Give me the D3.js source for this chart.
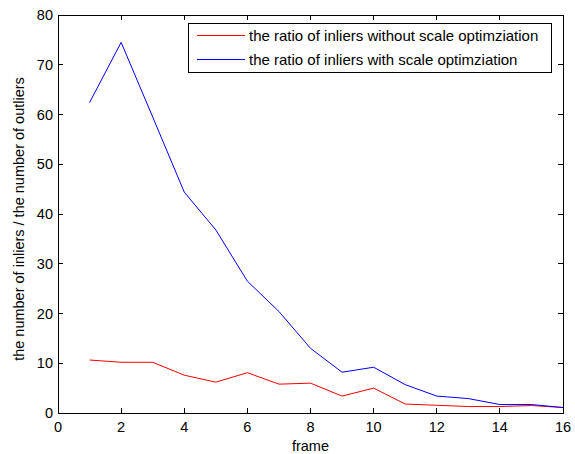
<!DOCTYPE html>
<html>
<head>
<meta charset="utf-8">
<script src="https://cdn.jsdelivr.net/npm/d3@7"></script>
<style>
  body { margin: 0; background: #fff; }
  text { font-family: Arial, "Liberation Sans", sans-serif; fill: #000; }
</style>
</head>
<body>
<svg width="575" height="454"></svg>
<script>
var frames = d3.range(1, 17);
var withoutScale = [10.65, 10.2, 10.2, 7.6, 6.2, 8.1, 5.8, 6.0, 3.4, 5.0, 1.8, 1.55, 1.3, 1.3, 1.5, 1.1];
var withScale = [62.4, 74.5, 59.5, 44.4, 36.8, 26.5, 20.4, 13.0, 8.2, 9.2, 5.7, 3.4, 2.9, 1.7, 1.7, 1.1];
var xTicks = [0, 2, 4, 6, 8, 10, 12, 14, 16];
var yTicks = [0, 10, 20, 30, 40, 50, 60, 70, 80];
var series = [
  { name: "the ratio of inliers without scale optimziation", values: withoutScale, color: "#ff0000" },
  { name: "the ratio of inliers with scale optimziation", values: withScale, color: "#0000ff" }
];

var svg = d3.select("svg"),
  pLeft = 58, pRight = 563, pTop = 15, pBottom = 413;

var x = d3.scaleLinear().domain([0, 16]).range([pLeft, pRight]);
var y = d3.scaleLinear().domain([0, 80]).range([pBottom, pTop]);

var line = d3.line()
  .x(function (d, i) { return x(frames[i]); })
  .y(function (d) { return y(d); });

svg.append("g")
  .selectAll("path")
  .data(series)
  .enter().append("path")
  .attr("fill", "none")
  .attr("stroke", function (d) { return d.color; })
  .attr("stroke-width", 1)
  .attr("d", function (d) { return line(d.values); });

// box + inward ticks on all sides
var tick = 5;
var axes = svg.append("g").attr("stroke", "#000").attr("stroke-width", 1).attr("shape-rendering", "crispEdges");
axes.append("rect")
  .attr("x", pLeft).attr("y", pTop)
  .attr("width", pRight - pLeft).attr("height", pBottom - pTop)
  .attr("fill", "none");

axes.selectAll(".xb").data(xTicks).enter().append("line")
  .attr("x1", x).attr("x2", x).attr("y1", pBottom).attr("y2", pBottom - tick);
axes.selectAll(".xt").data(xTicks).enter().append("line")
  .attr("x1", x).attr("x2", x).attr("y1", pTop).attr("y2", pTop + tick);
axes.selectAll(".yl").data(yTicks).enter().append("line")
  .attr("y1", y).attr("y2", y).attr("x1", pLeft).attr("x2", pLeft + tick);
axes.selectAll(".yr").data(yTicks).enter().append("line")
  .attr("y1", y).attr("y2", y).attr("x1", pRight).attr("x2", pRight - tick);

svg.append("g")
  .selectAll("text")
  .data(xTicks)
  .enter().append("text")
  .attr("x", x)
  .attr("y", pBottom + 19)
  .attr("text-anchor", "middle")
  .attr("font-size", 14.5)
  .text(function (d) { return d; });

svg.append("g")
  .selectAll("text")
  .data(yTicks)
  .enter().append("text")
  .attr("x", pLeft - 5)
  .attr("y", y)
  .attr("dy", "0.35em")
  .attr("text-anchor", "end")
  .attr("font-size", 14.5)
  .text(function (d) { return d; });

svg.append("text")
  .attr("x", (pLeft + pRight) / 2)
  .attr("y", 451)
  .attr("text-anchor", "middle")
  .attr("font-size", 14.5)
  .text("frame");

svg.append("text")
  .attr("transform", "translate(24," + 219 + ")rotate(-90)")
  .attr("text-anchor", "middle")
  .attr("font-size", 14.5)
  .text("the number of inliers / the number of outliers");

// legend
var legend = svg.append("g");
legend.append("rect")
  .attr("x", 188.5).attr("y", 23.5)
  .attr("width", 363).attr("height", 49)
  .attr("fill", "#fff").attr("stroke", "#000");

var item = legend.selectAll("g")
  .data(series)
  .enter().append("g")
  .attr("transform", function (d, i) { return "translate(0," + (35.5 + i * 24) + ")"; });

item.append("line")
  .attr("x1", 197).attr("x2", 245)
  .attr("stroke", function (d) { return d.color; });

item.append("text")
  .attr("x", 249)
  .attr("dy", "0.35em")
  .attr("font-size", 15)
  .text(function (d) { return d.name; });
</script>
</body>
</html>
